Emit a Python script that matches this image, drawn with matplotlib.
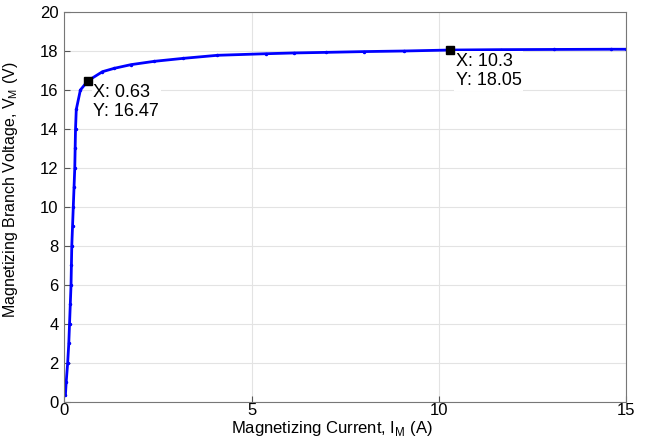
import matplotlib
matplotlib.use("Agg")
import matplotlib.pyplot as plt

plt.rcParams['font.family'] = ['Liberation Sans', 'DejaVu Sans']

# magnetizing current (A) and branch voltage (V)
i_m = [0.03, 0.05, 0.09, 0.12, 0.14, 0.16, 0.18, 0.19, 0.20, 0.22, 0.24, 0.26,
       0.28, 0.29, 0.30, 0.32, 0.43, 0.63, 1.02, 1.33, 1.78, 2.40, 3.16, 4.09,
       5.38, 6.14, 6.98, 8.01, 9.07, 10.3, 11.65, 13.08, 14.59, 15.0]
v_m = [0.35, 1, 2, 3, 4, 5, 6, 7, 8, 9, 10, 11,
       12, 13, 14, 15, 16, 16.47, 16.94, 17.11, 17.30, 17.47, 17.62, 17.78,
       17.86, 17.90, 17.93, 17.97, 18.00, 18.05, 18.07, 18.08, 18.09, 18.09]

# data tips
tips_x = [0.63, 10.3]
tips_y = [16.47, 18.05]

fig = plt.figure(figsize=(6.54, 4.43), dpi=100)
ax = fig.add_axes([0.0983, 0.0926, 0.8589, 0.8803])

ax.plot(i_m, v_m, color='#0000ff', lw=2, marker='.', ms=3)

for x, y in zip(tips_x, tips_y):
    ax.plot(x, y, 's', color='black', ms=6, zorder=5)
    ax.annotate("X: %g\nY: %.2f" % (x, y), (x, y), xytext=(4, -2),
                textcoords='offset points', ha='left', va='top',
                fontsize=13, linespacing=1.2,
                bbox=dict(boxstyle='square,pad=0.1', fc='white', ec='none'),
                zorder=4)

ax.set_xlim(0, 15)
ax.set_ylim(0, 20)
ax.set_xticks([0, 5, 10, 15])
ax.set_yticks(range(0, 21, 2))
ax.grid(True, color='#e3e3e3', lw=0.8)
ax.set_axisbelow(True)
ax.tick_params(direction='in', length=4, labelsize=12, color='#555555')
ax.tick_params(axis='x', pad=1)
ax.tick_params(axis='y', pad=4)
for s in ax.spines.values():
    s.set_color('#777777')

ax.set_xlabel(r"Magnetizing Current, I$_\mathregular{M}$ (A)", fontsize=12)
ax.set_ylabel(r"Magnetizing Branch Voltage, V$_\mathregular{M}$ (V)", fontsize=11.5)
ax.xaxis.set_label_coords(0.477, -0.044)
ax.yaxis.set_label_coords(-0.079, 0.544)

fig.savefig("out.png", dpi=100)
